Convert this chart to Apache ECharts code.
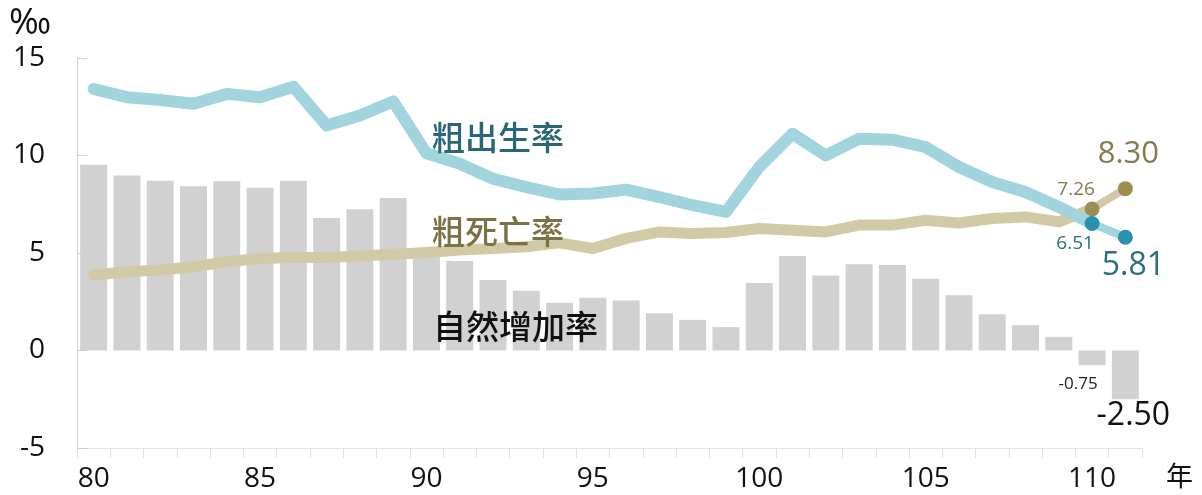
<!DOCTYPE html>
<html>
<head>
    <meta charset="utf-8">
    <title>粗出生率、粗死亡率與自然增加率</title>
    <script src="https://cdn.jsdelivr.net/npm/echarts@6/dist/echarts.min.js"></script>
    <style>
        html, body { margin: 0; padding: 0; background: #fff; }
        #chart { width: 1202px; height: 495px; }
    </style>
</head>
<body>
<div id="chart"></div>
<script type="text/javascript">
    // 年度 (民國)
    var years = ['80', '81', '82', '83', '84', '85', '86', '87', '88', '89',
        '90', '91', '92', '93', '94', '95', '96', '97', '98', '99',
        '100', '101', '102', '103', '104', '105', '106', '107', '108', '109',
        '110', '111'];

    // 粗出生率 ‰
    var birthRate = [13.41, 12.99, 12.85, 12.65, 13.16, 12.99, 13.53, 11.54, 12.05, 12.77,
        10.12, 9.58, 8.81, 8.38, 8.00, 8.05, 8.25, 7.87, 7.45, 7.11,
        9.41, 11.11, 10.00, 10.86, 10.81, 10.43, 9.41, 8.64, 8.13, 7.36,
        6.51, 5.81];

    // 粗死亡率 ‰
    var deathRate = [3.87, 4.04, 4.13, 4.29, 4.55, 4.72, 4.77, 4.77, 4.84, 4.94,
        5.03, 5.15, 5.23, 5.32, 5.52, 5.23, 5.75, 6.08, 6.00, 6.05,
        6.26, 6.17, 6.08, 6.43, 6.43, 6.68, 6.54, 6.77, 6.85, 6.60,
        7.26, 8.30];

    // 自然增加率 ‰
    var naturalRate = [9.53, 8.98, 8.71, 8.42, 8.68, 8.35, 8.71, 6.80, 7.24, 7.82,
        5.00, 4.59, 3.61, 3.07, 2.45, 2.71, 2.56, 1.91, 1.57, 1.20,
        3.46, 4.84, 3.85, 4.42, 4.38, 3.68, 2.83, 1.86, 1.30, 0.70,
        -0.75, -2.50];

    var yTicks = [-5, 0, 5, 10, 15];

    var numFont = '"Open Sans", "DejaVu Sans", sans-serif';
    var cjkFont = '"Noto Sans CJK TC", "Noto Sans CJK SC", sans-serif';

    var n = years.length;
    var last = n - 1;

    // 主線到110年，最後一段(110-111)另畫較細的線
    function mainPart(arr) {
        return arr.map(function (v, i) { return i <= last - 1 ? v : null; });
    }
    function tailPart(arr, labels) {
        return arr.map(function (v, i) {
            if (i < last - 1) return null;
            return { value: v, label: labels[i - (last - 1)] };
        });
    }
    function fmt(p) { return p.value.toFixed(2); }

    var deathLabels = [
        { show: true, position: 'top', offset: [-16, 3], fontSize: 19, color: '#857b4c', fontFamily: numFont, formatter: fmt },
        { show: true, position: 'top', offset: [3, -6], fontSize: 31, color: '#857b4c', fontFamily: numFont, formatter: fmt }
    ];
    var birthLabels = [
        { show: true, position: 'bottom', offset: [-17, -2], fontSize: 19, color: '#2d6d7c', fontFamily: numFont, formatter: fmt },
        { show: true, position: 'bottom', offset: [8, 0], fontSize: 32, color: '#2d6d7c', fontFamily: numFont, formatter: fmt }
    ];

    var barData = naturalRate.map(function (v, i) {
        if (i === last - 1) {
            return { value: v, label: { show: true, position: 'bottom', offset: [-14, 6], fontSize: 17, color: '#222', fontFamily: numFont, formatter: fmt } };
        }
        if (i === last) {
            return { value: v, label: { show: true, position: 'bottom', offset: [8, -4], fontSize: 32, color: '#111', fontFamily: numFont, formatter: fmt } };
        }
        return v;
    });

    var myChart = echarts.init(document.getElementById('chart'));

    myChart.setOption({
        animation: false,
        grid: { left: 77, right: 60, top: 58, bottom: 47 },
        xAxis: {
            type: 'category',
            data: years,
            boundaryGap: true,
            axisLine: { onZero: false, lineStyle: { color: '#e4e4e4', width: 1 } },
            axisTick: { show: true, interval: 0, length: 10, lineStyle: { color: '#e0e0e0' } },
            axisLabel: { interval: 4, margin: 17, fontSize: 28, color: '#111', fontFamily: numFont },
            splitLine: { show: false }
        },
        yAxis: {
            type: 'value',
            min: yTicks[0],
            max: yTicks[yTicks.length - 1],
            interval: 5,
            axisLine: { show: true, lineStyle: { color: '#cfcfcf', width: 1 } },
            axisTick: { show: true, inside: true, length: 10, lineStyle: { color: '#cfcfcf' } },
            axisLabel: { margin: 32, fontSize: 28, color: '#111', fontFamily: numFont },
            splitLine: { show: false }
        },
        series: [
            {
                name: '自然增加率',
                type: 'bar',
                data: barData,
                barCategoryGap: '19%',
                itemStyle: { color: '#d1d1d1' },
                z: 1
            },
            {
                name: '粗死亡率',
                type: 'line',
                data: mainPart(deathRate),
                showSymbol: false,
                connectNulls: false,
                lineStyle: { color: '#d2caa6', width: 11, cap: 'round', join: 'round' },
                z: 2
            },
            {
                name: '粗死亡率末段',
                type: 'line',
                data: tailPart(deathRate, deathLabels),
                symbol: 'circle',
                symbolSize: 15,
                showSymbol: true,
                itemStyle: { color: '#9d8f54' },
                lineStyle: { color: '#d2caa6', width: 8, cap: 'round' },
                z: 3
            },
            {
                name: '粗出生率',
                type: 'line',
                data: mainPart(birthRate),
                showSymbol: false,
                lineStyle: { color: '#a2d4de', width: 12, cap: 'round', join: 'round' },
                z: 4
            },
            {
                name: '粗出生率末段',
                type: 'line',
                data: tailPart(birthRate, birthLabels),
                symbol: 'circle',
                symbolSize: 15,
                showSymbol: true,
                itemStyle: { color: '#2b8fae' },
                lineStyle: { color: '#a2d4de', width: 8, cap: 'round' },
                z: 5
            }
        ],
        graphic: [
            { type: 'text', z: 100, left: 9, top: 6, style: { text: '‰', fontSize: 36, fill: '#111', fontFamily: numFont } },
            { type: 'text', z: 100, left: 1166, top: 462, style: { text: '年', fontSize: 27, fill: '#111', fontFamily: cjkFont } },
            { type: 'text', z: 100, left: 432, top: 121, style: { text: '粗出生率', fontSize: 33, fontWeight: 500, fill: '#2a6776', fontFamily: cjkFont } },
            { type: 'text', z: 100, left: 432, top: 215, style: { text: '粗死亡率', fontSize: 33, fontWeight: 500, fill: '#7a7245', fontFamily: cjkFont } },
            { type: 'text', z: 100, left: 433, top: 310, style: { text: '自然增加率', fontSize: 33, fontWeight: 500, fill: '#111', fontFamily: cjkFont } }
        ]
    });
</script>
</body>
</html>
